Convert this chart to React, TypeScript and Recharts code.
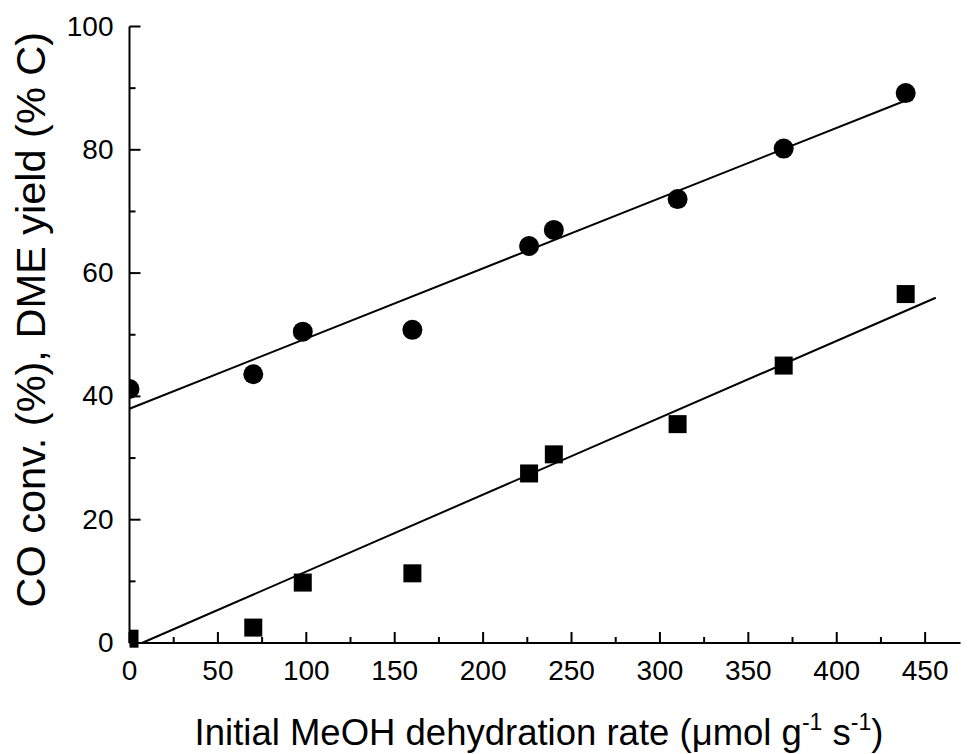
import React from 'react';
import { ScatterChart, Scatter, XAxis, YAxis } from 'recharts';

const rateX = [0, 70, 98, 160, 226, 240, 310, 370, 439];
const coConv = [41.2, 43.6, 50.5, 50.8, 64.4, 67.0, 72.0, 80.2, 89.2];
const dmeYield = [0.7, 2.5, 9.8, 11.3, 27.5, 30.6, 35.5, 45.0, 56.6];
const coFitX = [0, 439];
const coFitY = [38.0, 88.0];
const dmeFitX = [7, 456];
const dmeFitY = [0, 56.0];
const xTicks = [0, 25, 50, 75, 100, 125, 150, 175, 200, 225, 250, 275, 300, 325, 350, 375, 400, 425, 450];
const yTicks = [0, 10, 20, 30, 40, 50, 60, 70, 80, 90, 100];

const coData = rateX.map((x, i) => ({ x, y: coConv[i] }));
const dmeData = rateX.map((x, i) => ({ x, y: dmeYield[i] }));
const coFit = coFitX.map((x, i) => ({ x, y: coFitY[i] }));
const dmeFit = dmeFitX.map((x, i) => ({ x, y: dmeFitY[i] }));

const FONT = '"Liberation Sans", Arial, sans-serif';

const XTick = (props: any) => {
  const { x, y, payload } = props;
  const major = payload.value % 50 === 0;
  return (
    <g>
      <line x1={x} y1={y} x2={x} y2={y - (major ? 11 : 6)} stroke="#000" strokeWidth={2} />
      {major && (
        <text x={x} y={y + 37} textAnchor="middle" fontSize={28} fontFamily={FONT} fill="#000">
          {payload.value}
        </text>
      )}
    </g>
  );
};

const YTick = (props: any) => {
  const { x, y, payload } = props;
  const major = payload.value % 20 === 0;
  return (
    <g>
      <line x1={x} y1={y} x2={x + (major ? 11 : 6)} y2={y} stroke="#000" strokeWidth={2} />
      {major && (
        <text x={x - 16} y={y + 9} textAnchor="end" fontSize={28} fontFamily={FONT} fill="#000">
          {payload.value}
        </text>
      )}
    </g>
  );
};

const XTitle = (props: any) => {
  const vb = props.viewBox || {};
  const cx = vb.x + vb.width / 2 - 6;
  return (
    <text x={cx} y={745} textAnchor="middle" fontSize={36.5} fontFamily={FONT} fill="#000">
      Initial MeOH dehydration rate (μmol g
      <tspan fontSize={23} dy={-15}>-1</tspan>
      <tspan dy={15}> s</tspan>
      <tspan fontSize={23} dy={-15}>-1</tspan>
      <tspan dy={15}>)</tspan>
    </text>
  );
};

const YTitle = (props: any) => {
  const vb = props.viewBox || {};
  const cy = vb.y + vb.height / 2 - 15;
  return (
    <text x={45} y={cy} transform={`rotate(-90, 45, ${cy})`} textAnchor="middle" fontSize={41.5} fontFamily={FONT} fill="#000">
      CO conv. (%), DME yield (% C)
    </text>
  );
};

const Circle = (props: any) => <circle cx={props.cx} cy={props.cy} r={10} fill="#000" />;
const Square = (props: any) => <rect x={props.cx - 9} y={props.cy - 9} width={18} height={18} fill="#000" />;
const NoShape = () => <g />;

export default function App() {
  return (
    <div style={{ position: 'absolute', left: 0, top: 0, background: '#fff' }}>
      <ScatterChart width={969} height={754} margin={{ top: 26.5, right: 8.5, bottom: 51, left: 49.5 }}>
        <XAxis
          type="number"
          dataKey="x"
          domain={[0, 470]}
          ticks={xTicks}
          interval={0}
          tick={<XTick />}
          tickSize={0}
          tickMargin={0}
          height={60}
          allowDataOverflow
          axisLine={{ stroke: '#000', strokeWidth: 2 }}
          label={{ content: <XTitle /> }}
        />
        <YAxis
          type="number"
          dataKey="y"
          domain={[0, 100]}
          ticks={yTicks}
          interval={0}
          tick={<YTick />}
          tickSize={0}
          tickMargin={0}
          width={80}
          axisLine={{ stroke: '#000', strokeWidth: 2 }}
          label={{ content: <YTitle /> }}
        />
        <Scatter data={coFit} line={{ stroke: '#000', strokeWidth: 2 }} shape={<NoShape />} isAnimationActive={false} />
        <Scatter data={dmeFit} line={{ stroke: '#000', strokeWidth: 2 }} shape={<NoShape />} isAnimationActive={false} />
        <Scatter data={coData} shape={<Circle />} isAnimationActive={false} />
        <Scatter data={dmeData} shape={<Square />} isAnimationActive={false} />
      </ScatterChart>
    </div>
  );
}
